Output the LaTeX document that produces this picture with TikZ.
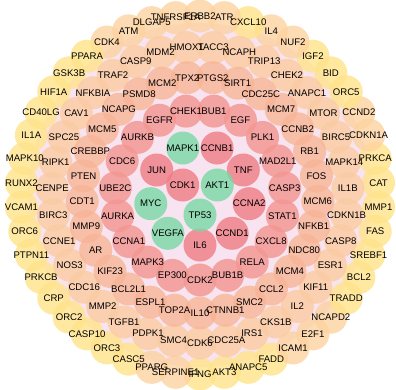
\documentclass[tikz,border=0pt]{standalone}
\usepackage{fontspec}
\setsansfont{Liberation Sans}
\usetikzlibrary{backgrounds}

\definecolor{canvapink}{HTML}{F7E4F0}
\definecolor{clHUB}  {HTML}{78D8A4}
\definecolor{clCORE} {HTML}{EF7B84}
\definecolor{clRINGC}{HTML}{F3958F}
\definecolor{clRINGD}{HTML}{F8B596}
\definecolor{clRINGE}{HTML}{FBCBA2}
\definecolor{clOUT}  {HTML}{FFE38A}
\definecolor{clOUTP} {HTML}{FDD2A0}

% gene lists, one per ring (counter-clockwise, starting at the bottom)
\def\ringA{TP53/clHUB, AKT1/clHUB, CDK1/clCORE}
\def\ringB{IL6/clCORE, CCND1/clCORE, CCNA2/clCORE, TNF/clCORE, CCNB1/clCORE,
    MAPK1/clHUB, JUN/clCORE, MYC/clHUB, VEGFA/clHUB}
\def\ringC{CDK2, BUB1B, RELA, CXCL8, STAT1, CASP3, MAD2L1, PLK1, EGF, BUB1,
    CHEK1, EGFR, AURKB, CDC6, UBE2C, AURKA, CCNA1, MAPK3, EP300}
\def\ringD{IL10, CTNNB1, SMC2, CCL2, MCM4, NDC80, NFKB1, MCM6, FOS, RB1, CCNB2,
    MCM7, CDC25C, SIRT1, PTGS2, TPX2, MCM2, PSMD8, NCAPG, MCM5, CREBBP, PTEN,
    CDT1, MMP9, AR, KIF23, BCL2L1, ESPL1, TOP2A}
\def\ringE{CDK6, CDC25A, IRS1, CKS1B, IL2, KIF11, ESR1, CASP8, CDKN1B, IL1B,
    MAPK14, BIRC5, MTOR, ANAPC1, CHEK2, TRIP13, NCAPH, TACC3, HMOX1, MDM2,
    CASP9, TRAF2, NFKBIA, CAV1, SPC25, RIPK1, CENPE, BIRC3, CCNE1, NOS3, CDC16,
    MMP2, TGFB1, PDPK1, SMC4}
\def\ringF{IFNG/clOUT, AKT3/clOUT, ANAPC5/clOUT, FADD/clOUT, ICAM1/clOUTP,
    E2F1/clOUTP, NCAPD2/clOUTP, TRADD/clOUT, BCL2/clOUT, SREBF1/clOUT, FAS/clOUT,
    MMP1/clOUT, CAT/clOUT, PRKCA/clOUT, CDKN1A/clOUTP, CCND2/clOUTP, ORC5/clOUT,
    BID/clOUT, IGF2/clOUT, NUF2/clOUTP, IL4/clOUTP, CXCL10/clOUT, ATR/clOUTP,
    ERBB2/clOUTP, TNFRSF1A/clOUTP, DLGAP5/clOUTP, ATM/clOUTP, CDK4/clOUTP,
    PPARA/clOUT, GSK3B/clOUT, HIF1A/clOUT, CD40LG/clOUT, IL1A/clOUT, MAPK10/clOUT,
    RUNX2/clOUT, VCAM1/clOUT, ORC6/clOUT, PTPN11/clOUT, PRKCB/clOUT, CRP/clOUT,
    ORC2/clOUT, CASP10/clOUT, ORC3/clOUT, CASC5/clOUT, PPARG/clOUTP,
    SERPINE1/clOUTP}

\begin{document}
\begin{tikzpicture}[
    x=1pt, y=1pt,
    every node/.style={font=\sffamily\fontsize{9.6}{10}\selectfont, text=black},
    gene/.style={
        circle, draw=none, minimum size=33pt,
        inner sep=0pt, fill opacity=0.8
    },
    genelabel/.style={inner sep=0pt}
]

\useasboundingbox (-200,-194) rectangle (196,195);

% ── BACKGROUND ─────────────────────────────────────────────────
\begin{scope}[on background layer]
    \fill[canvapink] (0,0) circle (172);
\end{scope}

% ── OUTER RING (46) ────────────────────────────────────────────
\foreach \g/\c [count=\i] in \ringF
    \node[gene, fill=\c] (\g) at ({-90+(\i-1)*360/46}:179) {};

% ── RING 5 (35) ────────────────────────────────────────────────
\foreach \g [count=\i] in \ringE
    \node[gene, fill=clRINGE] (\g) at ({-90+(\i-1)*360/35}:148) {};

% ── RING 4 (29) ────────────────────────────────────────────────
\foreach \g [count=\i] in \ringD
    \node[gene, fill=clRINGD] (\g) at ({-90+(\i-1)*360/29}:118) {};

% ── RING 3 (19) ────────────────────────────────────────────────
\foreach \g [count=\i] in \ringC
    \node[gene, fill=clRINGC] (\g) at ({-90+(\i-1)*360/19}:85) {};

% ── CORE: ring of 9 + hub triangle ─────────────────────────────
\foreach \g/\c [count=\i] in \ringB
    \node[gene, fill=\c] (\g) at ({-90+(\i-1)*40}:50) {};
\foreach \g/\c [count=\i] in \ringA
    \node[gene, fill=\c] (\g) at ({-90+(\i-1)*120}:20) {};

% ── LABELS on top ──────────────────────────────────────────────
\foreach \g/\c in \ringF {\node[genelabel] at (\g) {\g};}
\foreach \g in \ringE {\node[genelabel] at (\g) {\g};}
\foreach \g in \ringD {\node[genelabel] at (\g) {\g};}
\foreach \g in \ringC {\node[genelabel] at (\g) {\g};}
\foreach \g/\c in \ringB {\node[genelabel] at (\g) {\g};}
\foreach \g/\c in \ringA {\node[genelabel] at (\g) {\g};}

\end{tikzpicture}
\end{document}
